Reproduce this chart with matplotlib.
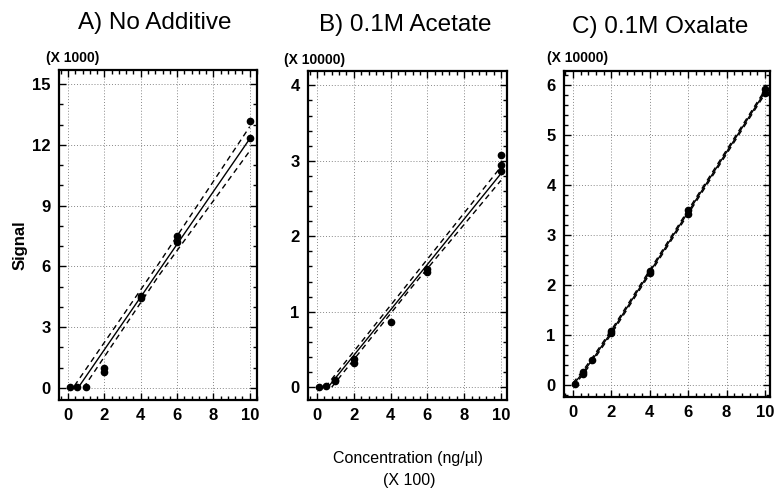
import numpy as np
import matplotlib
matplotlib.use("Agg")
import matplotlib.pyplot as plt
from matplotlib.ticker import AutoMinorLocator

plt.rcParams['font.family'] = ['Liberation Sans', 'DejaVu Sans']

########################################################################
# Data  (signal in units of the multiplier shown above each axis)

titles = ["A) No Additive", "B) 0.1M Acetate", "C) 0.1M Oxalate"]
multipliers = ["(X 1000)", "(X 10000)", "(X 10000)"]

# A) no additive, signal x 1000
conc_a = [0.1, 0.5, 1.0, 2.0, 2.0, 4.0, 4.0, 6.0, 6.0, 10.0, 10.0]
sig_a = [0.05, 0.05, 0.05, 0.8, 1.0, 4.45, 4.55, 7.2, 7.5, 12.35, 13.2]
fit_a_x = [0.55, 10.0]
fit_a_y = [0.0, 12.3]
up_a_x = [0.35, 5.0, 10.0]
up_a_y = [0.1, 6.15, 12.9]
lo_a_x = [0.85, 5.0, 10.0]
lo_a_y = [0.0, 5.55, 11.7]

# B) 0.1M acetate, signal x 10000
conc_b = [0.1, 0.5, 1.0, 1.0, 2.0, 2.0, 4.0, 6.0, 6.0, 10.0, 10.0, 10.0]
sig_b = [0.0, 0.01, 0.08, 0.1, 0.32, 0.38, 0.86, 1.52, 1.57, 2.86, 2.95, 3.08]
fit_b_x = [0.6, 10.0]
fit_b_y = [0.0, 2.83]
up_b_x = [0.45, 5.0, 10.0]
up_b_y = [0.0, 1.39, 2.92]
lo_b_x = [0.8, 5.0, 10.0]
lo_b_y = [0.0, 1.28, 2.74]

# C) 0.1M oxalate, signal x 10000
conc_c = [0.1, 0.5, 0.5, 1.0, 2.0, 2.0, 4.0, 4.0, 6.0, 6.0, 10.0, 10.0]
sig_c = [0.02, 0.22, 0.26, 0.5, 1.04, 1.08, 2.23, 2.28, 3.42, 3.5, 5.85, 5.92]
fit_c_x = [0.0, 0.5, 1.0, 2.0, 4.0, 6.0, 10.0]
fit_c_y = [0.0, 0.24, 0.5, 1.06, 2.26, 3.46, 5.86]

x_ticks = [0, 2, 4, 6, 8, 10]
y_ticks = [[0, 3, 6, 9, 12, 15], [0, 1, 2, 3, 4], [0, 1, 2, 3, 4, 5, 6]]

########################################################################
# Layout

fig = plt.figure(figsize=(7.75, 4.88), dpi=100)

boxes = [
    [0.0761, 0.1803, 0.2555, 0.6763],
    [0.3974, 0.1803, 0.2568, 0.6742],
    [0.7277, 0.1865, 0.2658, 0.6680],
]
xlims = [(-0.5, 10.4), (-0.49, 10.33), (-0.47, 10.26)]
ylims = [(-0.6, 15.7), (-0.17, 4.19), (-0.24, 6.28)]
y_minor = [3, 5, 5]
title_x = [155, 405, 660]
title_y = [23, 25, 27]
mult_x = [46, 284, 547]
mult_y = [58, 60, 58]

W, H = 775.0, 488.0

data = [
    (conc_a, sig_a, [(fit_a_x, fit_a_y, '-'), (up_a_x, up_a_y, '--'), (lo_a_x, lo_a_y, '--')]),
    (conc_b, sig_b, [(fit_b_x, fit_b_y, '-'), (up_b_x, up_b_y, '--'), (lo_b_x, lo_b_y, '--')]),
    (conc_c, sig_c, [(fit_c_x, fit_c_y, '-'),
                     (fit_c_x, np.array(fit_c_y) + 0.04, '--'),
                     (fit_c_x, np.array(fit_c_y) - 0.04, '--')]),
]

for i, (xs, ys, lines) in enumerate(data):
    ax = fig.add_axes(boxes[i])
    for lx, ly, ls in lines:
        if ls == '-':
            ax.plot(lx, ly, color='black', lw=1.0)
        else:
            ax.plot(lx, ly, color='black', lw=1.0, ls=(0, (4, 3)))
    ax.plot(xs, ys, 'o', color='black', ms=4.5)

    ax.set_xlim(*xlims[i])
    ax.set_ylim(*ylims[i])
    ax.set_xticks(x_ticks)
    ax.set_yticks(y_ticks[i])
    ax.xaxis.set_minor_locator(AutoMinorLocator(5))
    ax.yaxis.set_minor_locator(AutoMinorLocator(y_minor[i]))
    ax.tick_params(which='both', direction='in', top=True, right=True,
                   width=1.0, labelsize=12)
    ax.tick_params(which='major', length=5, pad=6)
    ax.tick_params(which='minor', length=3)
    for lab in ax.get_xticklabels() + ax.get_yticklabels():
        lab.set_fontweight('bold')
    for sp in ax.spines.values():
        sp.set_linewidth(1.6)
    ax.grid(True, which='major', color='#888888', ls=(0, (1, 2)), lw=0.7)

    fig.text(title_x[i] / W, 1 - title_y[i] / H, titles[i],
             ha='center', va='center', fontsize=17.5)
    fig.text(mult_x[i] / W, 1 - mult_y[i] / H, multipliers[i],
             ha='left', va='center', fontsize=10, fontweight='bold')

fig.text(20 / W, 1 - 245 / H, "Signal", rotation=90,
         ha='center', va='center', fontsize=12, fontweight='bold')
fig.text(408 / W, 1 - 458 / H, "Concentration (ng/\u00b5l)",
         ha='center', va='center', fontsize=11.5)
fig.text(409 / W, 1 - 481 / H, "(X 100)",
         ha='center', va='center', fontsize=11.5)

fig.savefig("out.png", dpi=100)
